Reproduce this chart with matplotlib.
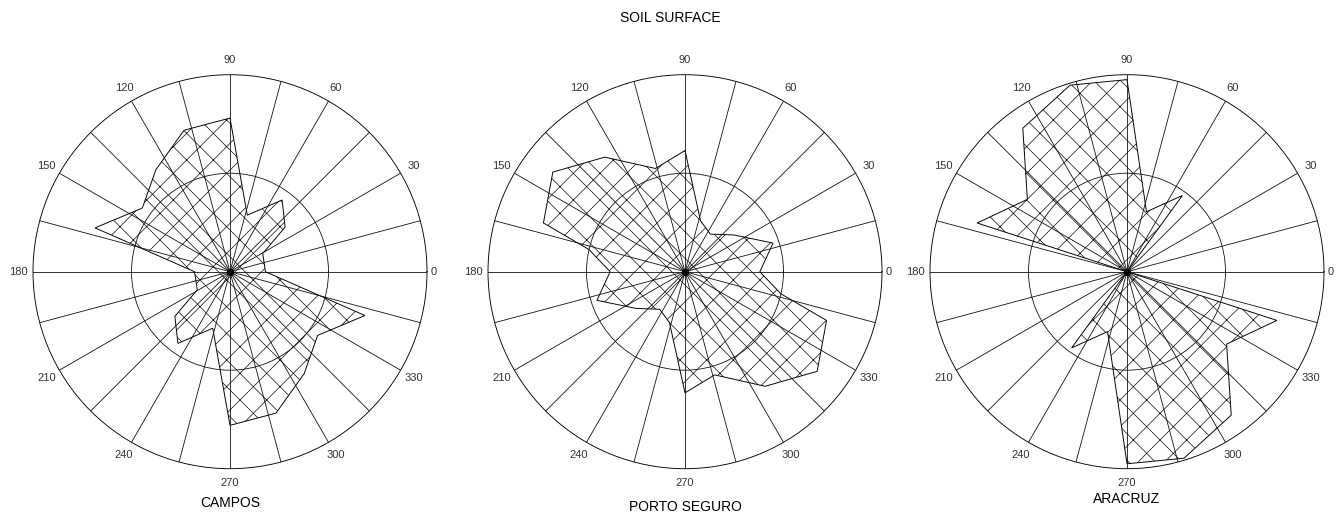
import numpy as np
import matplotlib
matplotlib.use("Agg")
import matplotlib.pyplot as plt

plt.rcParams['font.family'] = ['Liberation Sans', 'DejaVu Sans']
plt.rcParams['hatch.linewidth'] = 0.6

# rose vertices (direction in degrees, relative length)
campos_theta = [0, 29, 39, 54, 73, 90, 108, 126, 144, 162,
                180, 209, 219, 234, 253, 270, 288, 306, 324, 342]
campos_r = [0.18, 0.19, 0.36, 0.45, 0.30, 0.78, 0.755, 0.64, 0.55, 0.72,
            0.18, 0.19, 0.36, 0.45, 0.30, 0.78, 0.755, 0.64, 0.55, 0.72]

porto_theta = [0, 18, 37, 56, 73, 90, 106, 125, 143, 161, 167,
               180, 198, 217, 236, 253, 270, 286, 305, 323, 341, 347]
porto_r = [0.38, 0.47, 0.31, 0.23, 0.27, 0.615, 0.545, 0.71, 0.84, 0.76, 0.50,
           0.38, 0.47, 0.31, 0.23, 0.27, 0.615, 0.545, 0.71, 0.84, 0.76, 0.50]

aracruz_theta = [0, 18, 36, 54, 72, 90, 107, 126, 144, 162,
                 180, 198, 216, 234, 252, 270, 287, 306, 324, 342]
aracruz_r = [0.0, 0.0, 0.0, 0.478, 0.32, 0.975, 0.99, 0.90, 0.625, 0.80,
             0.0, 0.0, 0.0, 0.478, 0.32, 0.975, 0.99, 0.90, 0.625, 0.80]

sites = ["CAMPOS", "PORTO SEGURO", "ARACRUZ"]
site_y = [0.017, 0.009, 0.025]
thetas = [campos_theta, porto_theta, aracruz_theta]
radii = [campos_r, porto_r, aracruz_r]

label_angles = np.arange(0, 360, 30)
grid_angles = np.arange(0, 360, 15)

# dpi 80 keeps the 'x' hatch spacing close to the original (~13 px)
DPI = 80
W, H = 1336, 519
fig = plt.figure(figsize=(W / DPI, H / DPI), dpi=DPI)

centers_x = [230, 685, 1127]
cy = 271.7
R = 197

for cx, name, ty, th, rr in zip(centers_x, sites, site_y, thetas, radii):
    ax = fig.add_axes([(cx - R) / W, (H - cy - R) / H, 2 * R / W, 2 * R / H],
                      projection='polar')
    ax.set_ylim(0, 1)
    ax.set_thetagrids(grid_angles, labels=[""] * len(grid_angles))
    ax.set_rgrids([0.5], labels=[""])
    ax.grid(True, color='#111111', linewidth=0.75)
    ax.spines['polar'].set_linewidth(0.8)
    ax.tick_params(length=0)

    for a in label_angles:
        lr = 1.035 if a == 0 else 1.075
        ax.text(np.deg2rad(a), lr, str(a), ha='center', va='center',
                fontsize=10, color='#333333', clip_on=False)

    t = np.deg2rad(np.append(th, th[0]))
    r = np.append(rr, rr[0])
    ax.fill(t, r, facecolor='none', edgecolor='black', hatch='x', linewidth=0.85)
    ax.plot([0], [0], 'o', color='black', markersize=5.5)

    fig.text(cx / W, ty, name, ha='center', va='bottom', fontsize=12.5)

fig.text(670 / W, 1 - 18 / H, "SOIL SURFACE", ha='center', va='center', fontsize=12.5)

fig.savefig("out.png", dpi=DPI)
